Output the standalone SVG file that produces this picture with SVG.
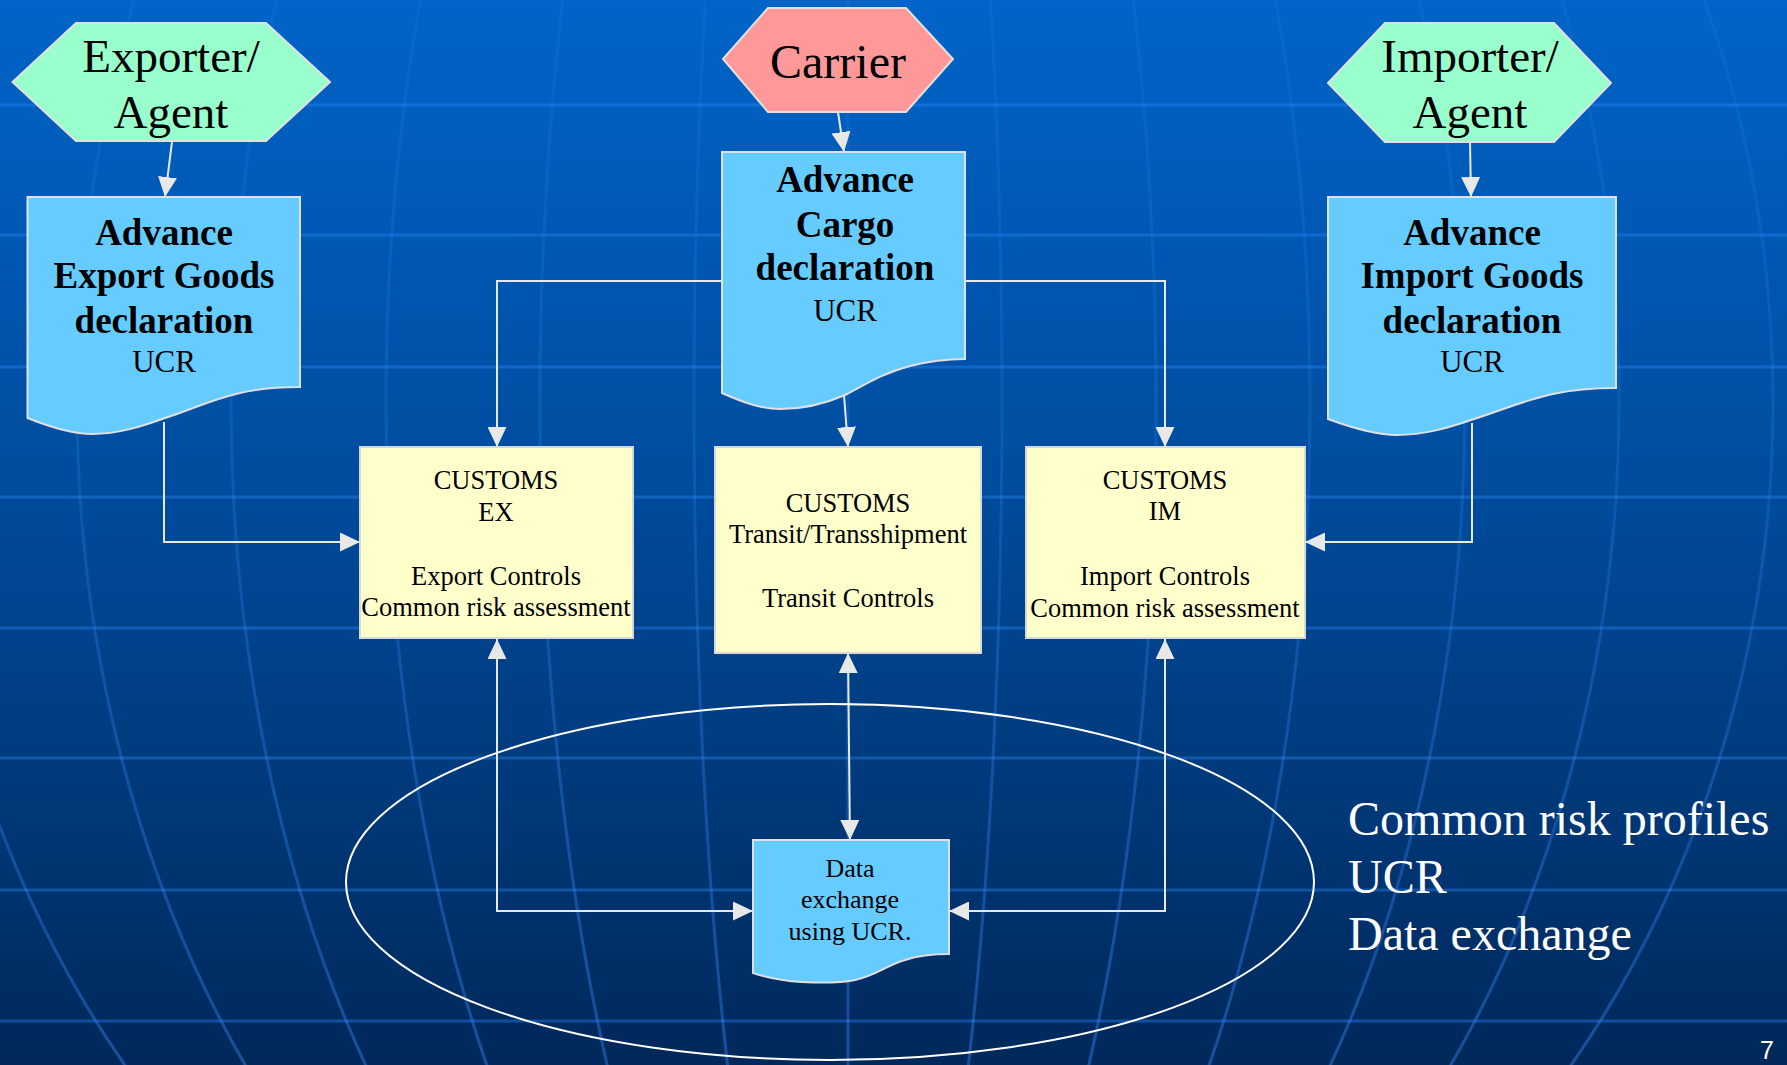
<svg xmlns="http://www.w3.org/2000/svg" width="1787" height="1065" viewBox="0 0 1787 1065">
  <defs>
    <linearGradient id="bg" x1="0" y1="0" x2="0" y2="1">
      <stop offset="0" stop-color="#0064c8"/>
      <stop offset="0.45" stop-color="#004c9e"/>
      <stop offset="1" stop-color="#00285a"/>
    </linearGradient>
    <linearGradient id="mer" gradientUnits="userSpaceOnUse" x1="0" y1="0" x2="0" y2="1065">
      <stop offset="0" stop-color="#3a8cff" stop-opacity="0.12"/>
      <stop offset="0.5" stop-color="#3a8cff" stop-opacity="0.22"/>
      <stop offset="1" stop-color="#3a8cff" stop-opacity="0.4"/>
    </linearGradient>
    <marker id="ah" markerUnits="userSpaceOnUse" markerWidth="20" markerHeight="19" refX="20" refY="9.5" orient="auto-start-reverse">
      <path d="M0,0 L20,9.5 L0,19 Z" fill="#e8e8e8"/>
    </marker>
  </defs>
  <style>
    .hl { stroke: #2a8cff; stroke-opacity: 0.38; stroke-width: 3; }
    .mer { fill: none; stroke: url(#mer); stroke-width: 3; }
    .hexg { fill: #99ffcc; stroke: #e0e0e0; stroke-width: 2; }
    .hexr { fill: #ff9999; stroke: #e0e0e0; stroke-width: 2; }
    .doc { fill: #66ccff; stroke: #e0e0e0; stroke-width: 2; }
    .cust { fill: #ffffcc; stroke: #d8d8d8; stroke-width: 2; }
    .con { fill: none; stroke: #e8e8e8; stroke-width: 2; }
    .t { font-family: "Liberation Serif", "Times New Roman", serif; fill: #000; text-anchor: middle; }
    .big { font-size: 47px; }
    .bold { font-size: 37px; font-weight: bold; }
    .ucr { font-size: 31px; }
    .small { font-size: 26.5px; }
    .side { font-family: "Liberation Serif", "Times New Roman", serif; font-size: 48px; fill: #ffffff; }
  </style>

  <g id="background">
    <rect x="0" y="0" width="1787" height="1065" fill="url(#bg)"/>
    <line class="hl" x1="0" y1="105" x2="1787" y2="105"/>
    <line class="hl" x1="0" y1="235" x2="1787" y2="235"/>
    <line class="hl" x1="0" y1="367" x2="1787" y2="367"/>
    <line class="hl" x1="0" y1="497" x2="1787" y2="497"/>
    <line class="hl" x1="0" y1="628" x2="1787" y2="628"/>
    <line class="hl" x1="0" y1="758" x2="1787" y2="758"/>
    <line class="hl" x1="0" y1="890" x2="1787" y2="890"/>
    <line class="hl" x1="0" y1="1021" x2="1787" y2="1021"/>
    <line class="mer" x1="848" y1="0" x2="848" y2="1065"/>
    <ellipse class="mer" cx="848" cy="402" rx="154" ry="1063"/>
    <ellipse class="mer" cx="848" cy="402" rx="308" ry="1063"/>
    <ellipse class="mer" cx="848" cy="402" rx="462" ry="1063"/>
    <ellipse class="mer" cx="848" cy="402" rx="617" ry="1063"/>
    <ellipse class="mer" cx="848" cy="402" rx="771" ry="1063"/>
    <ellipse class="mer" cx="848" cy="402" rx="925" ry="1063"/>
  </g>

  <g id="connectors">
    <line class="con" x1="172" y1="142" x2="165" y2="197" marker-end="url(#ah)"/>
    <line class="con" x1="838" y1="112" x2="844" y2="152" marker-end="url(#ah)"/>
    <line class="con" x1="1470" y1="142" x2="1471" y2="197" marker-end="url(#ah)"/>
    <polyline class="con" points="164,422 164,542 360,542" marker-end="url(#ah)"/>
    <polyline class="con" points="1472,423 1472,542 1305,542" marker-end="url(#ah)"/>
    <polyline class="con" points="722,281 497,281 497,447" marker-end="url(#ah)"/>
    <polyline class="con" points="965,281 1165,281 1165,447" marker-end="url(#ah)"/>
    <line class="con" x1="844" y1="395" x2="848" y2="447" marker-end="url(#ah)"/>
    <line class="con" x1="848" y1="653" x2="850" y2="840" marker-start="url(#ah)" marker-end="url(#ah)"/>
    <polyline class="con" points="497,639 497,911 753,911" marker-start="url(#ah)" marker-end="url(#ah)"/>
    <polyline class="con" points="1165,639 1165,911 949,911" marker-start="url(#ah)" marker-end="url(#ah)"/>
    <ellipse cx="830" cy="882" rx="484" ry="178" fill="none" stroke="#ffffff" stroke-width="2"/>
  </g>

  <g id="exporter">
    <polygon class="hexg" points="12.5,82 76,23 266,23 330,82 266,141 76,141"/>
    <text class="t big" x="171" y="72">Exporter/</text>
    <text class="t big" x="171" y="128">Agent</text>
  </g>

  <g id="carrier">
    <polygon class="hexr" points="723,59 768,8 906,8 953,59 906,112 768,112"/>
    <text class="t" x="838" y="78" font-size="48">Carrier</text>
  </g>

  <g id="importer">
    <polygon class="hexg" points="1328,83 1385,23 1554,23 1611,83 1554,142 1385,142"/>
    <text class="t big" x="1470" y="72">Importer/</text>
    <text class="t big" x="1470" y="128">Agent</text>
  </g>

  <g id="export-declaration">
    <path class="doc" d="M27.5,197 H300 V387 C282,387 262,388 240,393 C210,400 190,410 165,418 C140,427 118,434 92,434 C70,434 45,425 27.5,418 Z"/>
    <text class="t bold" x="164" y="245">Advance</text>
    <text class="t bold" x="164" y="288">Export Goods</text>
    <text class="t bold" x="164" y="333">declaration</text>
    <text class="t ucr" x="164" y="372">UCR</text>
  </g>

  <g id="cargo-declaration">
    <path class="doc" d="M722,152 H965 V359 C948,359 930,361 910,366 C880,374 865,385 845,395 C820,406 800,409 780,409 C760,409 740,401 722,393 Z"/>
    <text class="t bold" x="845" y="192">Advance</text>
    <text class="t bold" x="845" y="237">Cargo</text>
    <text class="t bold" x="845" y="280">declaration</text>
    <text class="t ucr" x="845" y="321">UCR</text>
  </g>

  <g id="import-declaration">
    <path class="doc" d="M1328,197 H1616 V388 C1597,388 1576,389 1553,394 C1521,401 1500,411 1474,419 C1448,428 1424,435 1397,435 C1374,435 1347,426 1328,419 Z"/>
    <text class="t bold" x="1472" y="245">Advance</text>
    <text class="t bold" x="1472" y="288">Import Goods</text>
    <text class="t bold" x="1472" y="333">declaration</text>
    <text class="t ucr" x="1472" y="372">UCR</text>
  </g>

  <g id="customs-ex">
    <rect class="cust" x="360" y="447" width="273" height="191"/>
    <text class="t small" x="496" y="489">CUSTOMS</text>
    <text class="t small" x="496" y="521">EX</text>
    <text class="t small" x="496" y="585">Export Controls</text>
    <text class="t small" x="496" y="616">Common risk assessment</text>
  </g>

  <g id="customs-transit">
    <rect class="cust" x="715" y="447" width="266" height="206"/>
    <text class="t small" x="848" y="512">CUSTOMS</text>
    <text class="t small" x="848" y="543">Transit/Transshipment</text>
    <text class="t small" x="848" y="607">Transit Controls</text>
  </g>

  <g id="customs-im">
    <rect class="cust" x="1026" y="447" width="279" height="191"/>
    <text class="t small" x="1165" y="489">CUSTOMS</text>
    <text class="t small" x="1165" y="520">IM</text>
    <text class="t small" x="1165" y="585">Import Controls</text>
    <text class="t small" x="1165" y="617">Common risk assessment</text>
  </g>

  <g id="data-exchange">
    <path class="doc" d="M753,840 H949 V954 C935,954 920,955 905,960 C885,966 875,976 855,980 C840,983 820,983 802,982 C785,981 768,978 753,973 Z"/>
    <text class="t" x="850" y="877" font-size="26">Data</text>
    <text class="t" x="850" y="908" font-size="26">exchange</text>
    <text class="t" x="850" y="940" font-size="26">using UCR.</text>
  </g>

  <g id="notes">
    <text class="side" x="1348" y="835">Common risk profiles</text>
    <text class="side" x="1348" y="893">UCR</text>
    <text class="side" x="1348" y="950">Data exchange</text>
    <text x="1760" y="1059" font-family="Liberation Sans, Arial, sans-serif" font-size="25" fill="#ffffff">7</text>
  </g>
</svg>
